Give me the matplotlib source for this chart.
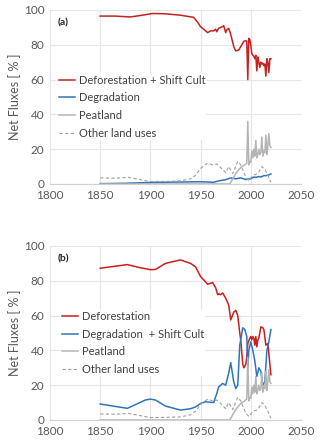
import matplotlib
matplotlib.use("Agg")
import matplotlib.pyplot as plt

plt.rcParams['font.family'] = ['Lato', 'DejaVu Sans']

# ---- Panel (a) data ----
defo_a_years = [1850, 1865, 1880, 1892, 1902, 1915, 1930, 1943, 1947, 1950, 1954, 1957, 1960, 1963, 1965, 1966, 1968, 1970, 1972, 1973, 1975, 1976, 1978, 1980, 1983, 1985, 1988, 1990, 1993, 1995, 1996, 1997, 1998, 1999, 2000, 2001, 2002, 2003, 2004, 2005, 2006, 2007, 2008, 2009, 2010, 2011, 2012, 2013, 2014, 2015, 2016, 2017, 2018, 2019, 2020]
defo_a_vals  = [96.5, 96.5, 96.0, 97.0, 98.0, 97.8, 97.0, 95.8, 93.0, 90.4, 88.5, 87.0, 88.0, 88.0, 89.0, 87.5, 89.5, 90.0, 90.5, 91.0, 87.0, 88.5, 89.5, 86.0, 79.0, 76.5, 77.0, 79.0, 82.0, 82.4, 82.0, 60.0, 83.7, 83.0, 80.0, 75.0, 74.0, 73.5, 72.0, 74.0, 65.0, 73.0, 70.0, 67.0, 70.0, 69.0, 69.5, 68.0, 69.0, 62.0, 72.0, 70.0, 64.0, 72.0, 72.0]

degr_a_years = [1850, 1875, 1900, 1925, 1950, 1963, 1968, 1975, 1980, 1985, 1990, 1995, 2000, 2003, 2005, 2008, 2010, 2013, 2015, 2018, 2020]
degr_a_vals  = [0.2, 0.4, 0.9, 1.1, 1.3, 1.0, 1.8, 2.5, 3.5, 3.0, 3.5, 2.6, 3.0, 4.0, 3.8, 4.3, 4.0, 4.8, 4.8, 5.2, 5.8]

peat_years = [1850, 1979, 1981, 1985, 1990, 1994, 1996, 1997, 1998, 1999, 2000, 2001, 2002, 2003, 2004, 2005, 2006, 2007, 2008, 2009, 2010, 2011, 2012, 2013, 2014, 2015, 2016, 2017, 2018, 2019, 2020]
peat_vals  = [0.0, 0.0, 2.0, 6.0, 9.5, 11.0, 12.0, 36.0, 11.0, 13.0, 12.5, 19.0, 15.0, 20.0, 16.0, 25.0, 15.0, 17.0, 20.0, 17.0, 18.0, 27.0, 16.0, 19.0, 18.0, 28.0, 17.0, 22.0, 29.0, 22.0, 21.0]

other_years = [1850, 1865, 1878, 1890, 1900, 1915, 1930, 1940, 1945, 1950, 1957, 1962, 1966, 1970, 1975, 1978, 1982, 1987, 1990, 1995, 1998, 2002, 2005, 2008, 2011, 2014, 2017, 2020]
other_a_vals = [3.5, 3.3, 3.8, 2.5, 1.4, 1.5, 1.8, 3.0, 5.0, 9.0, 12.0, 11.0, 11.5, 9.5, 6.5, 10.0, 6.0, 13.0, 11.0, 4.0, 2.0, 5.0, 5.5, 7.0, 10.0, 8.5, 5.0, 1.0]

# ---- Panel (b) data ----
defo_b_years = [1850, 1860, 1877, 1890, 1900, 1905, 1915, 1930, 1940, 1945, 1950, 1954, 1957, 1962, 1965, 1967, 1968, 1970, 1972, 1975, 1978, 1980, 1983, 1985, 1987, 1989, 1990, 1992, 1993, 1995, 1996, 1997, 1999, 2000, 2001, 2002, 2003, 2004, 2005, 2006, 2007, 2008, 2010, 2012, 2013, 2015, 2017, 2020]
defo_b_vals  = [87.2, 88.0, 89.3, 87.5, 86.4, 86.5, 90.0, 92.0, 90.0, 88.0, 82.4, 80.0, 78.0, 79.0, 76.0, 72.0, 72.5, 72.0, 73.0, 70.0, 66.0, 57.5, 62.0, 63.0, 60.0, 50.0, 46.0, 32.0, 30.0, 32.0, 36.0, 44.0, 47.0, 48.0, 46.0, 48.0, 47.0, 43.0, 48.0, 42.0, 46.0, 47.0, 53.5, 53.0, 52.0, 43.0, 44.0, 26.0]

degr_b_years = [1850, 1877, 1895, 1900, 1905, 1915, 1930, 1940, 1945, 1950, 1955, 1963, 1966, 1968, 1970, 1972, 1975, 1978, 1980, 1983, 1985, 1987, 1989, 1992, 1994, 1996, 1997, 1998, 2000, 2002, 2004, 2006, 2008, 2010, 2012, 2014, 2016, 2018, 2020]
degr_b_vals  = [9.2, 6.7, 11.5, 12.0, 11.5, 8.0, 5.7, 6.5, 7.5, 9.5, 10.5, 10.0, 15.0, 19.0, 20.0, 21.0, 20.0, 27.0, 33.0, 22.0, 18.0, 20.0, 43.0, 53.0, 52.0, 48.0, 30.0, 40.0, 45.0, 40.0, 34.0, 25.0, 30.0, 28.0, 20.0, 22.0, 40.0, 45.0, 52.0]

other_b_vals = [3.5, 3.3, 3.8, 2.5, 1.4, 1.5, 1.8, 3.0, 5.0, 9.0, 12.0, 11.0, 11.5, 9.5, 6.5, 10.0, 6.0, 13.0, 11.0, 4.0, 2.0, 5.0, 5.5, 7.0, 10.0, 8.5, 5.0, 1.0]

labels_a = ["Deforestation + Shift Cult", "Degradation", "Peatland", "Other land uses"]
labels_b = ["Deforestation", "Degradation  + Shift Cult", "Peatland", "Other land uses"]
x_ticks = [1800, 1850, 1900, 1950, 2000, 2050]
y_ticks = [0, 20, 40, 60, 80, 100]

RED = "#c8201e"
BLUE = "#2e75c0"
GRAY = "#b4b4b4"
DGRAY = "#a0a0a0"
TXT = "#595959"

W, H = 320, 447
fig = plt.figure(figsize=(W / 100, H / 100), dpi=100)

def make_ax(top_px, bottom_px):
    left, right = 50, 301
    return fig.add_axes([left / W, 1 - bottom_px / H, (right - left) / W, (bottom_px - top_px) / H])

def style(ax, tag):
    ax.set_xlim(1800, 2050)
    ax.set_ylim(0, 100)
    ax.set_xticks(x_ticks)
    ax.set_yticks(y_ticks)
    ax.grid(True, color="#e6e6e6", linewidth=0.8)
    ax.set_axisbelow(True)
    for s in ["top", "right", "left"]:
        ax.spines[s].set_visible(False)
    ax.spines["bottom"].set_color("#d0d0d0")
    ax.spines["bottom"].set_linewidth(0.8)
    ax.tick_params(length=0, labelsize=8.5, colors=TXT, pad=4)
    ax.set_ylabel("Net Fluxes [ % ]", fontsize=9, color=TXT, labelpad=2)
    ax.text(0.03, 0.95, tag, transform=ax.transAxes, fontsize=7.5, fontweight="bold",
            color="#262626", va="top", ha="left")

def legend(ax, labels, x, y):
    ax.legend(labels, loc="center left", bbox_to_anchor=(x, y), frameon=True, framealpha=1,
              edgecolor="none", fontsize=8, labelcolor="#404040", handlelength=1.5,
              handletextpad=0.3, labelspacing=0.6, borderpad=0.1, borderaxespad=0)

axA = make_ax(10, 184)
axA.plot(defo_a_years, defo_a_vals, color=RED, lw=1.1)
axA.plot(degr_a_years, degr_a_vals, color=BLUE, lw=1.1)
axA.plot(peat_years, peat_vals, color=GRAY, lw=1.1)
axA.plot(other_years, other_a_vals, color=DGRAY, lw=0.8, ls=(0, (3, 2)))
style(axA, "(a)")
legend(axA, labels_a, 0.03, 0.445)

axB = make_ax(246, 420)
axB.plot(defo_b_years, defo_b_vals, color=RED, lw=1.1)
axB.plot(degr_b_years, degr_b_vals, color=BLUE, lw=1.1)
axB.plot(peat_years, peat_vals, color=GRAY, lw=1.1)
axB.plot(other_years, other_b_vals, color=DGRAY, lw=0.8, ls=(0, (3, 2)))
style(axB, "(b)")
legend(axB, labels_b, 0.042, 0.443)

fig.savefig("out.png", dpi=100)
